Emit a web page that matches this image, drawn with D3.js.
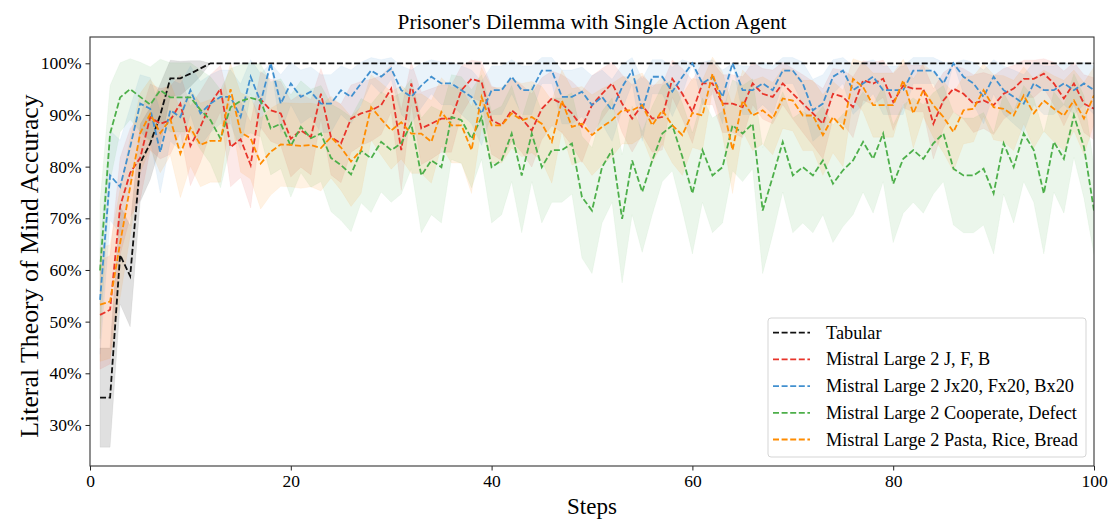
<!DOCTYPE html>
<html><head><meta charset="utf-8">
<script src="https://cdn.jsdelivr.net/npm/d3@7"></script>
<style>
body{margin:0;background:#fff}
svg{display:block}
text{font-family:"Liberation Serif","Times New Roman",serif;fill:#000}
</style></head>
<body><svg id="c" width="1110" height="520"></svg>
<script>
// ---------- data ----------
const steps = d3.range(1, 101);
const seriesNames = ["Tabular","Mistral Large 2 J, F, B","Mistral Large 2 Jx20, Fx20, Bx20","Mistral Large 2 Cooperate, Defect","Mistral Large 2 Pasta, Rice, Bread"];
const seriesColors = ["#111111","#e8342a","#4190cf","#4daf4a","#ff8c00"];
const yTicks = [30,40,50,60,70,80,90,100];
const xTicks = [0,20,40,60,80,100];

const tabular = [35.3,35.3,62.9,58.8,80.7,84.5,90,97.1,97.1,98,99,100,
100,100,100,100,100,100,100,100,100,100,100,100,100,100,100,100,100,100,100,100,100,100,100,100,100,100,100,100,
100,100,100,100,100,100,100,100,100,100,100,100,100,100,100,100,100,100,100,100,100,100,100,100,100,100,100,100,
100,100,100,100,100,100,100,100,100,100,100,100,100,100,100,100,100,100,100,100,100,100,100,100,100,100,100,100,100,100,100,100];
const tabularErr = [9.6,9.6,9.5,9.8,7.5,7,6,3.5,3.3,2.5,1.5,0,
0,0,0,0,0,0,0,0,0,0,0,0,0,0,0,0,0,0,0,0,0,0,0,0,0,0,0,0,
0,0,0,0,0,0,0,0,0,0,0,0,0,0,0,0,0,0,0,0,0,0,0,0,0,0,0,0,
0,0,0,0,0,0,0,0,0,0,0,0,0,0,0,0,0,0,0,0,0,0,0,0,0,0,0,0,0,0,0,0];

const jfb = [51.3,52.3,72.3,78.8,81.7,89.6,88.3,89,92.2,84,87.7,92.2,95.1,83.8,85.3,80.3,93,90.9,90.3,85.4,
87,85.7,94.1,85.7,84.5,89.3,90.3,90.9,91.9,95.1,83.2,96.1,87.4,88.3,89.3,89.3,94.8,97,96.4,89,
88,90.9,89.3,87,91.2,93.2,92.2,90.3,87.7,91.9,94.1,96.1,92.2,89.3,91.9,89.3,89.6,97,94.1,90.6,
96.1,96.1,92.2,92.2,91.5,96.1,94.1,93.5,96.1,94.1,92.2,90.3,88.3,94.1,93.5,91.5,96.7,96.1,97,92.5,
95.7,95.1,95.1,88.3,92.8,95.1,94.1,92.2,92.8,91.9,94.1,95.1,97,97,98,96.1,93.2,96.1,92.2,91.2];
const jfbErr = [10.5,10.5,9.4,8.6,8.1,6.4,6.8,6.6,5.6,7.7,6.9,5.6,4.5,7.7,7.4,8.3,5.4,6,6.2,7.4,
7.1,7.3,4.9,7.3,7.6,6.5,6.2,6,5.7,4.5,7.8,4.1,7,6.8,6.5,6.5,4.7,3.6,3.9,6.6,
6.8,6,6.5,7.1,6,5.3,5.6,6.2,6.9,5.7,4.9,4.1,5.6,6.5,5.7,6.5,6.4,3.6,4.9,6.1,
4.1,4.1,5.6,5.6,5.9,4.1,4.9,5.2,4.1,4.9,5.6,6.2,6.8,4.9,5.2,5.9,3.8,4.1,3.6,5.5,
4.3,4.5,4.5,6.8,5.4,4.5,4.9,5.6,5.4,5.7,4.9,4.5,3.6,3.6,2.9,4.1,5.3,4.1,5.6,6];

const jx20 = [54.2,78.3,76.1,83.8,92.2,91.2,82.8,90.9,89.6,94.8,90.3,92.2,93.5,93.5,89.6,97.4,92.5,100,92.2,96.1,
93.5,94.5,92.2,92.2,94.8,93.5,96.1,98.6,97.4,99,94.8,93.5,95.7,97.4,96.1,96.1,94.8,93.5,90.3,94.8,
94.8,97.4,94.8,94.8,98.6,98.6,93.5,93.5,94.5,91.9,93.5,90.9,95.4,98.6,90.9,97.4,97.4,94.5,97.4,100,
96.1,97.4,93.5,100,94.8,94.8,96.1,94.8,98.6,98.6,96.1,90.9,92.2,97.4,98.6,94.8,96.1,97.4,94.8,94.8,
94.8,98.6,98.6,98.6,96.1,100,97.4,96.1,93.5,97.4,94.8,93.5,92.2,96.1,94.8,94.8,96.1,94.8,96.1,94.8];
const jx20Err = [10.5,8.7,9,7.7,5.6,6,7.9,6,6.4,4.7,6.2,5.6,5.2,5.2,6.4,3.3,5.5,0,5.6,4.1,
5.2,4.8,5.6,5.6,4.7,5.2,4.1,2.5,3.3,2.1,4.7,5.2,4.3,3.3,4.1,4.1,4.7,5.2,6.2,4.7,
4.7,3.3,4.7,4.7,2.5,2.5,5.2,5.2,4.8,5.7,5.2,6,4.4,2.5,6,3.3,3.3,4.8,3.3,0,
4.1,3.3,5.2,0,4.7,4.7,4.1,4.7,2.5,2.5,4.1,6,5.6,3.3,2.5,4.7,4.1,3.3,4.7,4.7,
4.7,2.5,2.5,2.5,4.1,0,3.3,4.1,5.2,3.3,4.7,5.2,5.6,4.1,4.7,4.7,4.1,4.7,4.1,4.7];

const coopDefect = [59.9,86.4,93.4,95,93.5,92,94.8,93.4,93.4,93.4,91,89,85.4,91.5,92.7,93.3,92.8,87.4,88.3,84,
87.7,85.5,86.4,81.7,80.3,78.5,83.1,81.6,84.8,83.2,84.5,88.3,78.3,81.2,79.9,89.6,89,85.4,89.6,79.9,
81.2,86.4,78.3,86.4,79.9,83.2,83.2,84.5,74.1,71.5,79.9,83.2,69.9,81.2,75.1,81.2,86.4,88,81.9,74.8,
83.2,78.3,79.9,88,86.4,88.3,71.5,78,84.8,78.3,79.9,78.3,81.2,76.7,79.3,81.2,84.8,81.5,86.4,76.7,
81.5,83.2,81.5,84.5,86.4,79.6,78.3,78.3,79.6,74.8,84.5,79.9,86.4,83.2,74.8,84.8,81.5,89.9,83.8,71.5];
const coopDefectErr = [13.2,9.3,6.7,5.9,6.7,7.3,6,6.7,6.7,6.7,7.7,8.4,9.5,7.5,7,6.8,7,9,8.7,9.9,
8.9,9.5,9.3,10.4,10.7,11.1,10.1,10.5,9.7,10.1,9.8,8.7,11.1,10.5,10.8,8.2,8.4,9.5,8.2,10.8,
10.5,9.3,11.1,9.3,10.8,10.1,10.1,9.8,11.8,12.2,10.8,10.1,12.4,10.5,11.7,10.5,9.3,8.8,10.4,11.7,
10.1,11.1,10.8,8.8,9.3,8.7,12.2,11.2,9.7,11.1,10.8,11.1,10.5,11.4,10.9,10.5,9.7,10.5,9.3,11.4,
10.5,10.1,10.5,9.8,9.3,10.9,11.1,11.1,10.9,11.7,9.8,10.8,9.3,10.1,11.7,9.7,10.5,8.1,9.9,8.5];

const pastaRiceBread = [53.3,53.9,65.2,76.1,86.5,90.2,86.5,89.2,82.5,87.5,84.2,85,85,95,86.6,85.5,80.6,82.9,84.3,84.2,
84,84.2,83.6,85.7,83.7,81,83.2,91.5,89.2,87,88.6,86.4,86.4,84.8,90.6,88,88,83.2,93.5,88,
88,90.3,89,89.6,88.3,84.8,92.8,87.7,88.3,86.1,87.7,89,90.9,90.9,91.9,88,90.9,88,86.1,90.4,
89.9,98,92.2,83.2,92.8,89.9,90.9,89.3,93.2,92.8,89.9,89.9,86.1,89.6,87.4,97,95.4,91.9,91.9,91.9,
96.7,90.3,94.8,91.9,89.6,86.7,90.9,91.2,94.8,91.5,91.2,89.9,93.8,90.3,92.8,91.2,89.9,92.8,89.3,93.8];
const pastaRiceBreadErr = [11,11,10.5,9.5,7.7,6.7,7.7,7,8.5,7.4,8.1,8,8,5,7.7,7.9,8.8,8.4,8.1,8.1,
8.2,8.1,8.3,7.9,8.3,8.7,8.4,6.3,7,7.5,7.1,7.7,7.7,8,6.6,7.3,7.3,8.4,5.7,7.3,
7.3,6.7,7.1,6.9,7.2,8,5.9,7.4,7.2,7.8,7.4,7.1,6.5,6.5,6.2,7.3,6.5,7.3,7.8,6.7,
6.8,3.2,6.1,8.4,5.9,6.8,6.5,7,5.8,5.9,6.8,6.8,7.8,6.9,7.4,3.9,4.8,6.2,6.2,6.2,
4.1,6.7,5.1,6.2,6.9,7.6,6.5,6.4,5.1,6.3,6.4,6.8,5.5,6.7,5.9,6.4,6.8,5.9,7,5.5];

const seriesMeans = [tabular, jfb, jx20, coopDefect, pastaRiceBread];
const seriesErrs = [tabularErr, jfbErr, jx20Err, coopDefectErr, pastaRiceBreadErr];

// ---------- layout ----------
const M = {left: 90, right: 1094, top: 37, bottom: 466};
const svg = d3.select("#c");

const x = d3.scaleLinear().domain([0, 100]).range([M.left, M.right]);
const y = d3.scaleLinear().domain([22.06, 105.09]).range([M.bottom, M.top]);

svg.append("defs").append("clipPath").attr("id","pc")
  .append("rect").attr("x",M.left).attr("y",M.top).attr("width",M.right-M.left).attr("height",M.bottom-M.top);

const plot = svg.append("g").attr("clip-path","url(#pc)");

// bands (below all lines)
seriesMeans.forEach((m, i) => {
  const e = seriesErrs[i];
  const area = d3.area()
    .x((d, j) => x(steps[j]))
    .y0((d, j) => y(m[j] - e[j]))
    .y1((d, j) => y(m[j] + e[j]));
  plot.append("path").datum(m)
    .attr("d", area)
    .attr("fill", seriesColors[i])
    .attr("fill-opacity", i === 0 ? 0.13 : 0.11)
    .attr("stroke", seriesColors[i])
    .attr("stroke-opacity", 0.05)
    .attr("stroke-width", 1);
});

// lines
seriesMeans.forEach((m, i) => {
  const line = d3.line().x((d, j) => x(steps[j])).y(d => y(d));
  plot.append("path").datum(m)
    .attr("d", line)
    .attr("fill", "none")
    .attr("stroke", seriesColors[i])
    .attr("stroke-width", 1.8)
    .attr("stroke-dasharray", "6,2.6");
});

// axes
const gx = svg.append("g").attr("transform", `translate(0,${M.bottom})`)
  .call(d3.axisBottom(x).tickValues(xTicks).tickSize(4.5).tickPadding(4).tickFormat(d3.format("d")));
const gy = svg.append("g").attr("transform", `translate(${M.left},0)`)
  .call(d3.axisLeft(y).tickValues(yTicks).tickSize(4.5).tickPadding(4).tickFormat(d => d + "%"));
[gx, gy].forEach(g => {
  g.select(".domain").remove();
  g.selectAll("line").attr("stroke", "#222").attr("stroke-width", 1);
  g.selectAll("text").style("font-size", "17.5px").style("font-family", '"Liberation Serif", serif').attr("fill", "#000");
});

// frame
svg.append("rect").attr("x", M.left).attr("y", M.top)
  .attr("width", M.right - M.left).attr("height", M.bottom - M.top)
  .attr("fill", "none").attr("stroke", "#333").attr("stroke-width", 1.1);

// titles
svg.append("text").attr("x", (M.left + M.right) / 2).attr("y", 29)
  .attr("text-anchor", "middle").style("font-size", "21.3px")
  .text("Prisoner's Dilemma with Single Action Agent");
svg.append("text").attr("x", (M.left + M.right) / 2).attr("y", 514)
  .attr("text-anchor", "middle").style("font-size", "23px").text("Steps");
svg.append("text")
  .attr("transform", `translate(38,266) rotate(-90)`)
  .attr("text-anchor", "middle").style("font-size", "25.8px")
  .text("Literal Theory of Mind Accuracy");

// legend
const lg = svg.append("g");
lg.append("rect").attr("x", 768).attr("y", 318).attr("width", 318).attr("height", 139)
  .attr("rx", 3).attr("fill", "#fff").attr("fill-opacity", 0.85)
  .attr("stroke", "#d5d5d5").attr("stroke-width", 1);
seriesNames.forEach((n, i) => {
  const cy = 332.7 + i * 26.7;
  lg.append("line").attr("x1", 773).attr("x2", 810).attr("y1", cy).attr("y2", cy)
    .attr("stroke", seriesColors[i]).attr("stroke-width", 1.8).attr("stroke-dasharray", "6,2.6");
  lg.append("text").attr("x", 826).attr("y", cy).attr("dy", "0.33em")
    .style("font-size", "18.3px").text(n);
});
</script></body></html>
